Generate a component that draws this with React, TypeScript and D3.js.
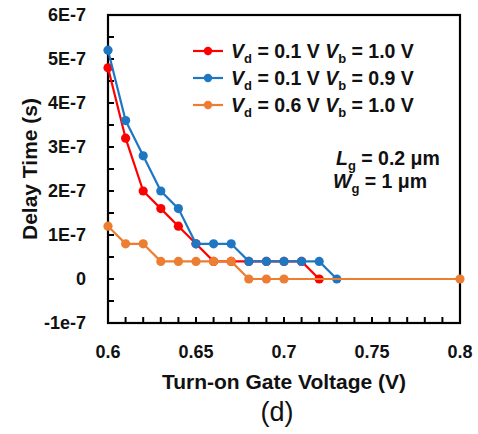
import React from "react";
import * as d3 from "d3";

const redX = [0.6, 0.61, 0.62, 0.63, 0.64, 0.65, 0.66, 0.67, 0.68, 0.69, 0.7, 0.71, 0.72];
const redY = [4.8e-7, 3.2e-7, 2.0e-7, 1.6e-7, 1.2e-7, 0.8e-7, 0.4e-7, 0.4e-7, 0.4e-7, 0.4e-7, 0.4e-7, 0.4e-7, 0];
const blueX = [0.6, 0.61, 0.62, 0.63, 0.64, 0.65, 0.66, 0.67, 0.68, 0.69, 0.7, 0.71, 0.72, 0.73];
const blueY = [5.2e-7, 3.6e-7, 2.8e-7, 2.0e-7, 1.6e-7, 0.8e-7, 0.8e-7, 0.8e-7, 0.4e-7, 0.4e-7, 0.4e-7, 0.4e-7, 0.4e-7, 0];
const orangeX = [0.6, 0.61, 0.62, 0.63, 0.64, 0.65, 0.66, 0.67, 0.68, 0.69, 0.7, 0.8];
const orangeY = [1.2e-7, 0.8e-7, 0.8e-7, 0.4e-7, 0.4e-7, 0.4e-7, 0.4e-7, 0.4e-7, 0, 0, 0, 0];

const xTickValues = [0.6, 0.65, 0.7, 0.75, 0.8];
const xTickLabels = ["0.6", "0.65", "0.7", "0.75", "0.8"];
const yTickValues = [-1e-7, 0, 1e-7, 2e-7, 3e-7, 4e-7, 5e-7, 6e-7];
const yTickLabels = ["-1e-7", "0", "1E-7", "2E-7", "3E-7", "4E-7", "5E-7", "6E-7"];

const legendD = ["0.1", "0.1", "0.6"];
const legendB = ["1.0", "0.9", "1.0"];

const COLORS = ["#FF0000", "#1F77C4", "#ED7D31"];
const FONT = "'Liberation Sans', Arial, sans-serif";

export default function App() {
  const W = 478, H = 434;
  const left = 108, right = 460, top = 15, bottom = 323;
  const x = d3.scaleLinear().domain([0.6, 0.8]).range([left, right]);
  const y = d3.scaleLinear().domain([-1e-7, 6e-7]).range([bottom, top]);
  const line = d3.line<[number, number]>().x(d => x(d[0])).y(d => y(d[1]));

  const series = [
    { xs: redX, ys: redY, color: COLORS[0] },
    { xs: blueX, ys: blueY, color: COLORS[1] },
    { xs: orangeX, ys: orangeY, color: COLORS[2] },
  ];

  const xMinor = d3.range(0, 21).map(i => 0.6 + i * 0.01);
  const yMinor = d3.range(0, 15).map(i => -1e-7 + i * 0.5e-7);

  const legRows = [51, 78, 105];

  return (
    <div style={{ position: "absolute", left: 0, top: 0 }}>
      <svg width={W} height={H} style={{ display: "block", background: "#fff" }} fontFamily={FONT}>
        <rect x={0} y={0} width={W} height={H} fill="#fff" />
        {xMinor.map((v, i) => (
          <line key={"xt" + i} x1={x(v)} x2={x(v)} y1={bottom} y2={bottom - 6} stroke="#000" strokeWidth={2} />
        ))}
        {yMinor.map((v, i) => (
          <line key={"yt" + i} x1={left} x2={left + 6} y1={y(v)} y2={y(v)} stroke="#000" strokeWidth={2} />
        ))}
        <rect x={left} y={top} width={right - left} height={bottom - top} fill="none" stroke="#000" strokeWidth={2.2} />
        {xTickValues.map((v, i) => (
          <text key={"xl" + i} x={x(v)} y={358} textAnchor="middle" fontSize={18} fontWeight="bold" fill="#111">
            {xTickLabels[i]}
          </text>
        ))}
        {yTickValues.map((v, i) => (
          <text key={"yl" + i} x={86} y={y(v) + 6} textAnchor="end" fontSize={18} fontWeight="bold" fill="#111">
            {yTickLabels[i]}
          </text>
        ))}
        {series.map((s, si) => {
          const pts: [number, number][] = s.xs.map((v, i) => [v, s.ys[i]]);
          return (
            <g key={"s" + si}>
              <path d={line(pts) || ""} fill="none" stroke={s.color} strokeWidth={2.2} />
              {pts.map((p, i) => (
                <circle key={i} cx={x(p[0])} cy={y(p[1])} r={4.6} fill={s.color} />
              ))}
            </g>
          );
        })}
        {legRows.map((ly, i) => (
          <g key={"lg" + i}>
            <line x1={193} x2={223} y1={ly} y2={ly} stroke={COLORS[i]} strokeWidth={2.2} />
            <circle cx={208} cy={ly} r={4.2} fill={COLORS[i]} />
            <text x={231} y={ly + 7} fontSize={19.5} fontWeight="bold" fill="#111">
              <tspan fontStyle="italic">V</tspan>
              <tspan fontSize={13} dy={5}>d</tspan>
              <tspan dy={-5}>{" = " + legendD[i] + " V "}</tspan>
              <tspan fontStyle="italic">V</tspan>
              <tspan fontSize={13} dy={5}>b</tspan>
              <tspan dy={-5}>{" = " + legendB[i] + " V"}</tspan>
            </text>
          </g>
        ))}
        <text x={336} y={165} fontSize={19.5} fontWeight="bold" fill="#111">
          <tspan fontStyle="italic">L</tspan>
          <tspan fontSize={13} dy={5}>g</tspan>
          <tspan dy={-5}>{" = 0.2 μm"}</tspan>
        </text>
        <text x={333} y={188} fontSize={19.5} fontWeight="bold" fill="#111">
          <tspan fontStyle="italic">W</tspan>
          <tspan fontSize={13} dy={5}>g</tspan>
          <tspan dy={-5}>{" = 1 μm"}</tspan>
        </text>
        <text x={284} y={389} textAnchor="middle" fontSize={21} fontWeight="bold" fill="#111">
          Turn-on Gate Voltage (V)
        </text>
        <text transform={`translate(37,${(top + bottom) / 2}) rotate(-90)`} textAnchor="middle" fontSize={21} fontWeight="bold" fill="#111">
          Delay Time (s)
        </text>
        <text x={277} y={421} textAnchor="middle" fontSize={27} fill="#111">(d)</text>
      </svg>
    </div>
  );
}
